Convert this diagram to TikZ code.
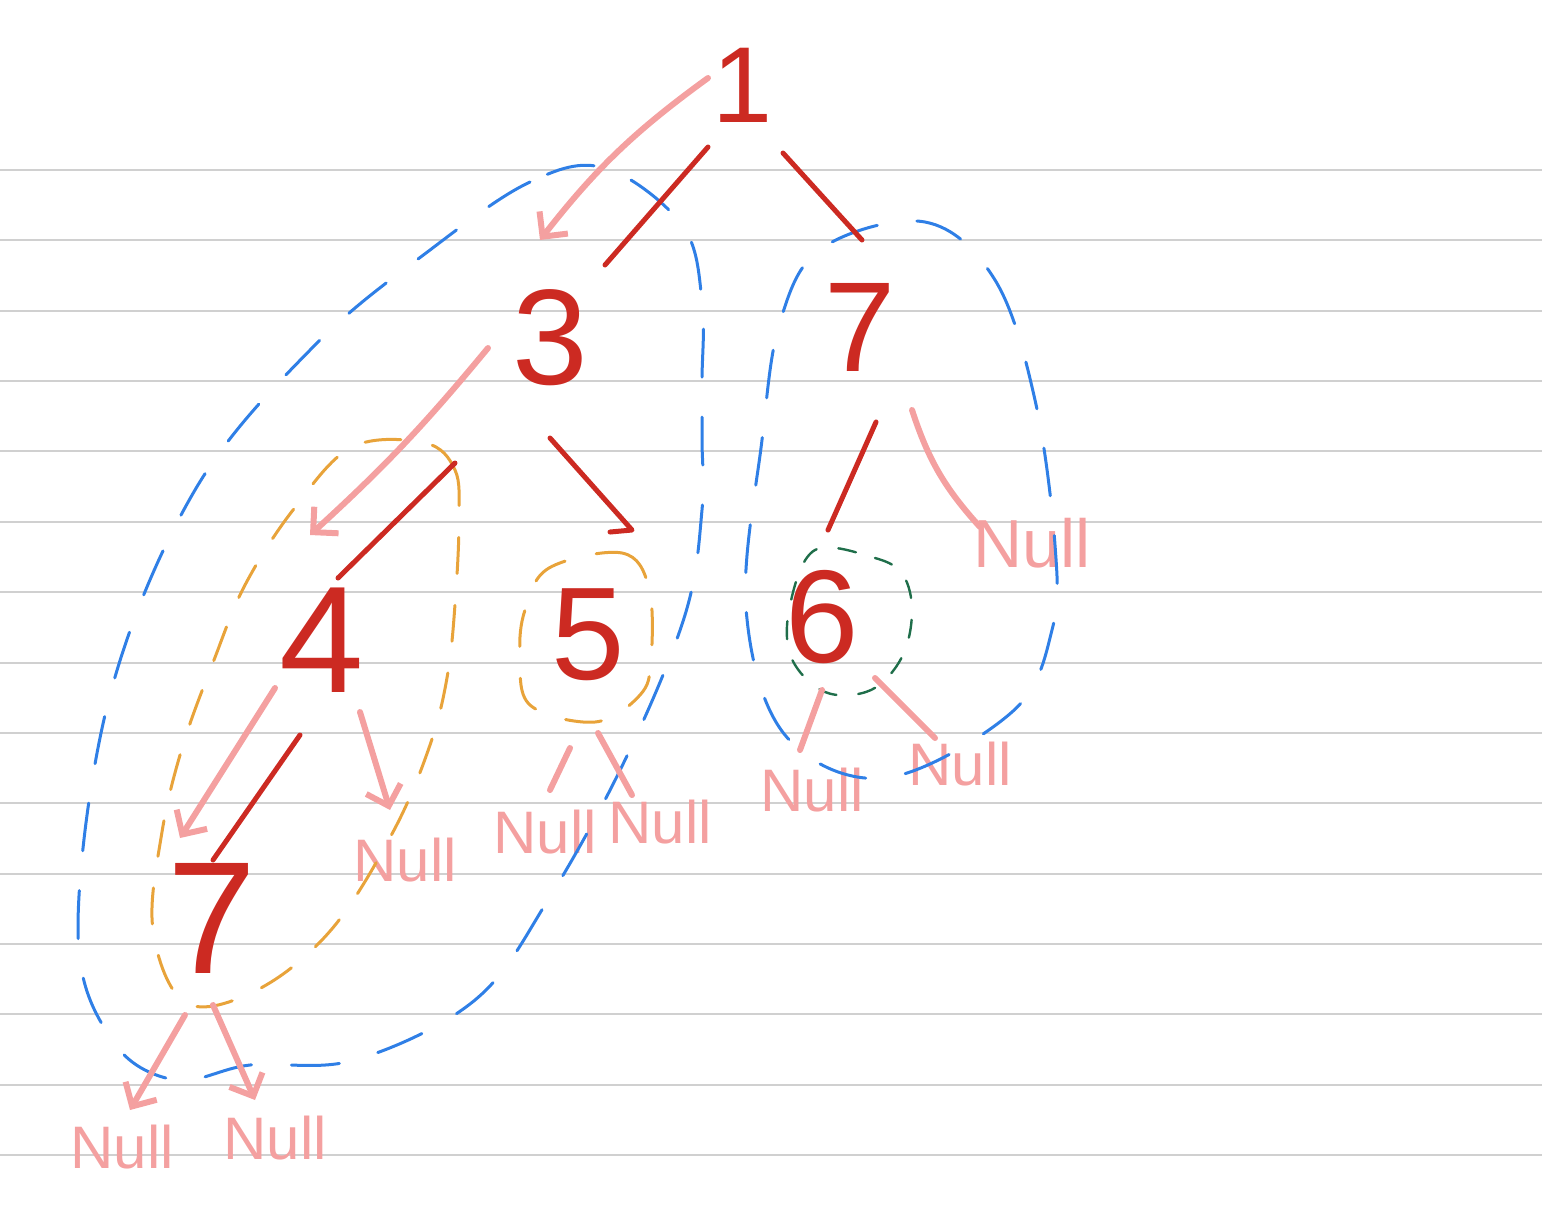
\documentclass[tikz,border=0pt]{standalone}
\usepackage{fontspec}
\setmainfont{Liberation Sans}
\usetikzlibrary{arrows.meta}
\definecolor{penred}{HTML}{CC2A22}
\definecolor{penpink}{HTML}{F4A0A0}
\definecolor{penblue}{HTML}{2F7FE6}
\definecolor{penorange}{HTML}{E8A33A}
\definecolor{pengreen}{HTML}{1F6E4A}
\definecolor{ruling}{HTML}{D0D0D0}
\begin{document}
\begin{tikzpicture}[x=0.5pt,y=-0.5pt,
  digit/.style={text=penred, inner sep=0pt, font=\fontsize{64}{64}\selectfont},
  nulltext/.style={text=penpink, inner sep=0pt, font=\fontsize{30}{30}\selectfont},
  treeedge/.style={draw=penred, line width=2.5pt, line cap=round, line join=round},
  trav/.style={draw=penpink, line width=3pt, line cap=round, line join=round},
  travarrow/.style={trav, -{Straight Barb[length=9pt,width=18pt]}},
  bluedash/.style={draw=penblue, line width=1.5pt, dash pattern=on 24pt off 20pt, line cap=round},
  orangedash/.style={draw=penorange, line width=1.5pt, dash pattern=on 18pt off 16pt, line cap=round},
  greendash/.style={draw=pengreen, line width=1.2pt, dash pattern=on 9pt off 11pt, line cap=round},
  ruleline/.style={draw=ruling, line width=1pt}
]
\useasboundingbox (0,0) rectangle (1542,1212);
% ruled paper
\foreach \k in {0,...,14} {
  \draw[ruleline] (0,{170+70.36*\k}) -- (1542,{170+70.36*\k});
}
% tree nodes
\node[digit, font=\fontsize{54}{54}\selectfont] (n1) at (743,85) {1};
\node[digit, font=\fontsize{68}{68}\selectfont] (n3) at (550,338) {3};
\node[digit, font=\fontsize{64}{64}\selectfont] (n7) at (860,327) {7};
\node[digit, font=\fontsize{76}{76}\selectfont] (n4) at (322,640) {4};
\node[digit, font=\fontsize{66}{66}\selectfont] (n5) at (588,635) {5};
\node[digit, font=\fontsize{66}{66}\selectfont] (n6) at (822,617) {6};
\node[digit, font=\fontsize{80}{80}\selectfont] (n7b) at (212,918) {7};
% NULL leaves
\node[nulltext, font=\fontsize{34}{34}\selectfont] (nA) at (1032,543) {Null};
\node[nulltext] (nB) at (405,860) {Null};
\node[nulltext] (nC) at (545,832) {Null};
\node[nulltext] (nD) at (660,822) {Null};
\node[nulltext] (nE) at (812,790) {Null};
\node[nulltext] (nF) at (960,764) {Null};
\node[nulltext] (nG) at (122,1147) {Null};
\node[nulltext] (nH) at (275,1138) {Null};
% dashed loops
\draw[bluedash] plot[smooth cycle, tension=0.6] coordinates {
  (605,168) (530,182) (430,250) (315,345) (195,490) (110,695) (78,930)
  (112,1040) (175,1080) (250,1065) (355,1060) (475,1000) (548,900)
  (625,760) (685,615) (702,510) (702,440) (702,380) (702,300) (682,225)};
\draw[bluedash] plot[smooth cycle, tension=0.6] coordinates {
  (925,222) (995,280) (1035,400) (1055,545) (1052,630) (1012,712)
  (885,778) (785,735) (746,608) (762,440) (780,322) (822,248)};
\draw[orangedash] plot[smooth cycle, tension=0.6] coordinates {
  (425,443) (455,470) (459,517) (456,590) (448,672) (430,745) (393,832)
  (331,930) (257,990) (186,1003) (153,930) (162,832) (183,745) (214,660)
  (245,585) (293,510) (352,447)};
\draw[orangedash] plot[smooth cycle, tension=0.6] coordinates {
  (549,568) (622,553) (649,588) (651,660) (640,695) (595,722) (530,705)
  (520,655) (525,610)};
\draw[greendash] plot[smooth cycle, tension=0.6] coordinates {
  (815,550) (875,558) (903,575) (912,612) (902,657) (871,690) (825,692)
  (791,657) (790,605)};
% tree edges
\draw[treeedge] ([shift={(-35,62)}]n1.center) -- ([shift={(55,-73)}]n3.center);
\draw[treeedge] ([shift={(40,68)}]n1.center) -- ([shift={(2,-87)}]n7.center);
\draw[treeedge] ([shift={(-95,125)}]n3.center) -- ([shift={(16,-62)}]n4.center);
\draw[treeedge] ([shift={(0,100)}]n3.center) -- ([shift={(44,-105)}]n5.center) -- ([shift={(22,-103)}]n5.center);
\draw[treeedge] ([shift={(16,95)}]n7.center) -- ([shift={(6,-87)}]n6.center);
\draw[treeedge] ([shift={(-22,95)}]n4.center) -- ([shift={(1,-58)}]n7b.center);
% traversal arrows
\draw[travarrow] ([shift={(-35,-7)}]n1.center) to[bend right=8] ([shift={(-10,-98)}]n3.center);
\draw[travarrow] ([shift={(-62,10)}]n3.center) to[bend left=4] ([shift={(-12,-105)}]n4.center);
\draw[travarrow] ([shift={(-47,48)}]n4.center) -- ([shift={(-32,-80)}]n7b.center);
\draw[travarrow] ([shift={(38,72)}]n4.center) -- ([shift={(-15,-50)}]nB.center);
\draw[travarrow] ([shift={(-27,97)}]n7b.center) -- ([shift={(8,-37)}]nG.center);
\draw[travarrow] ([shift={(1,87)}]n7b.center) -- ([shift={(-20,-38)}]nH.center);
\draw[trav] ([shift={(52,83)}]n7.center) to[bend right=12] ([shift={(-52,-16)}]nA.center);
\draw[trav] ([shift={(0,73)}]n6.center) -- ([shift={(-12,-40)}]nE.center);
\draw[trav] ([shift={(53,61)}]n6.center) -- ([shift={(-25,-26)}]nF.center);
\draw[trav] ([shift={(-18,113)}]n5.center) -- ([shift={(5,-42)}]nC.center);
\draw[trav] ([shift={(10,98)}]n5.center) -- ([shift={(-28,-27)}]nD.center);
\end{tikzpicture}
\end{document}
